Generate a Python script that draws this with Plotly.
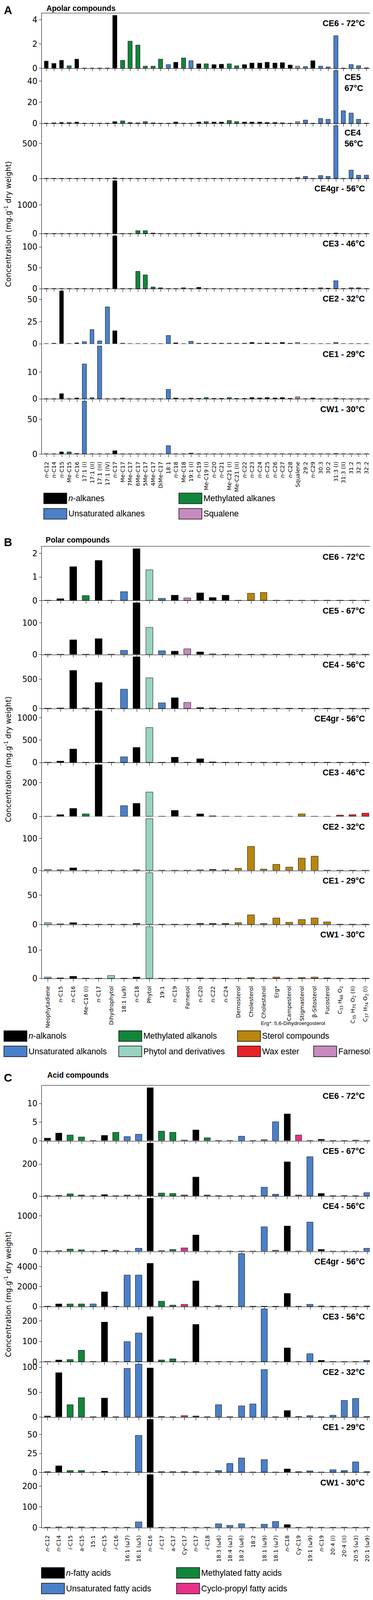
import plotly.graph_objects as go

# Layout positions below are given in reference pixels (955 x 4345).
# The page only shows ~4096 px of height and the body has an 8 px margin,
# so positions are mapped through fx/fy.
REF_W, REF_H = 955, 4345
VIEW_H = 4096
MARGIN = 8
S = VIEW_H / REF_H
W, H = REF_W - MARGIN, VIEW_H - MARGIN

# ---------------- Panel A : apolar compounds ----------------
A_CATS = ["<i>n</i>-C12", "<i>n</i>-C14", "<i>n</i>-C15", "Me-C15", "<i>n</i>-C16",
          "17:1 (I)", "17:1 (II)", "17:1 (III)", "17:1 (IV)", "<i>n</i>-C17",
          "Me-C17", "7Me-C17", "6Me-C17", "5Me-C17", "4Me-C17", "DiMe-C17",
          "18:1", "<i>n</i>-C18", "Me-C18", "19:1 (I)", "<i>n</i>-C19", "Me-C19 (I)",
          "<i>n</i>-C20", "<i>n</i>-C21", "Me-C21 (I)", "Me-C21 (II)", "<i>n</i>-C22",
          "<i>n</i>-C23", "<i>n</i>-C24", "<i>n</i>-C25", "<i>n</i>-C26", "<i>n</i>-C27",
          "<i>n</i>-C28", "Squalene", "29:2", "<i>n</i>-C29", "30:3", "30:2",
          "31:3 (I)", "31:3 (II)", "31:2", "32:3", "32:2"]
A_GROUP = ["n", "n", "n", "me", "n", "un", "un", "un", "un", "n", "me", "me", "me", "me",
           "me", "me", "un", "n", "me", "un", "n", "me", "n", "n", "me", "me", "n", "n",
           "n", "n", "n", "n", "n", "sq", "un", "n", "un", "un", "un", "un", "un", "un", "un"]
A_SAMPLES = ["CE6 - 72°C", "CE5<br>67°C", "CE4<br>56°C", "CE4gr - 56°C", "CE3 - 46°C",
             "CE2 - 32°C", "CE1 - 29°C", "CW1 - 30°C"]
A_CE6 = [0.58, 0.40, 0.66, 0.19, 0.73, 0.01, 0.01, 0.01, 0.01, 4.36, 0.65, 2.22, 1.92, 0.15,
         0.17, 0.76, 0.30, 0.48, 0.85, 0.62, 0.36, 0.37, 0.30, 0.32, 0.35, 0.20, 0.29, 0.42,
         0.42, 0.48, 0.43, 0.47, 0.27, 0.17, 0.12, 0.63, 0.18, 0.11, 2.69, 0.01, 0.28, 0.21, 0.02]
A_CE5 = [0, 0.3, 0.8, 0.7, 1.2, 0, 0, 0, 0, 1.5, 2.3, 0.6, 0.3, 1.5, 0.5, 0, 0, 1.2, 0, 0,
         1.0, 1.5, 1.1, 1.0, 2.8, 1.4, 1.0, 1.0, 1.3, 0.8, 0.7, 0.5, 0, 1.5, 3.1, 0, 4.5, 3.7,
         49.9, 12, 9.7, 3.6, 0]
A_CE4 = [0, 0, 1, 0, 3, 0, 0, 0, 0, 7, 0, 0, 0, 0, 0, 0, 0, 2, 0, 0, 1, 0, 0, 0, 0, 0, 0,
         0, 0, 0, 0, 0, 0, 12, 31, 0, 40, 26, 754, 0, 116, 47, 47]
A_CE4GR = [0, 1, 5, 0, 5, 0, 0, 2, 0, 1846, 1, 1, 103, 103, 10, 1, 1, 3, 4, 1, 10, 3, 1, 1,
           1, 1, 1, 1, 1, 1, 1, 1, 1, 1, 1, 1, 1, 1, 20, 0, 1, 1, 0]
A_CE3 = [0, 0, 0.5, 0, 0.3, 0, 0.3, 0, 0, 126.3, 0, 0, 41.5, 32.5, 3.5, 2, 0, 0, 2, 0.5, 3,
         0.5, 0, 0, 0.5, 0, 0, 0.3, 0, 0, 0, 0.5, 0, 0.8, 1.2, 0.5, 1.5, 1, 18.4, 0, 1.5, 1.5, 0]
A_CE2 = [0, 0.3, 59.5, 0, 1, 2.3, 16, 3, 41.4, 14.4, 0.5, 0, 0, 0, 0, 0, 9.5, 1, 0, 2.7,
         0.6, 0.6, 0.3, 0.3, 0.5, 0.3, 0.3, 1.2, 0.6, 0.8, 0.6, 1.5, 0.5, 1.3, 0, 0, 0, 0,
         1.3, 0, 0, 0, 0]
A_CE1 = [0, 0, 1.9, 0, 0.3, 12.95, 0.4, 19.6, 0, 0, 0.3, 0, 0, 0, 0, 0, 3.45, 0.3, 0, 0.25,
         0.2, 0.4, 0.2, 0.2, 0.4, 0.2, 0.2, 0.45, 0.35, 0.4, 0.35, 0.5, 0.2, 0.7, 0, 0.3, 0,
         0, 0.35, 0, 0, 0, 0]
A_CW1 = [0, 0, 2.6, 2.6, 0.5, 75.8, 0, 0, 0, 4.6, 0.3, 0, 0, 0, 0, 0, 12, 0.3, 0, 1.0, 0.3,
         0.3, 0.3, 0.3, 0.3, 0.3, 0.3, 0.3, 0.3, 0.3, 0.3, 0.3, 0.3, 0, 0, 0.3, 0, 0, 0.5,
         0, 0, 0, 0]
A_TICKS = [[0, 2, 4], [0, 20, 40], [0, 500], [0, 1000], [0, 50, 100], [0, 25, 50], [0, 10], [0, 50]]
A_LEGEND = [("<i>n</i>-alkanes", "n"), ("Methylated alkanes", "me"),
            ("Unsaturated alkanes", "un"), ("Squalene", "sq")]

# ---------------- Panel B : polar compounds ----------------
B_CATS = ["Neophytadiene", "<i>n</i>-C15", "<i>n</i>-C16", "Me-C16 (I)", "<i>n</i>-C17",
          "Dihydrophytol", "18:1 (ω9)", "<i>n</i>-C18", "Phytol", "19:1", "<i>n</i>-C19",
          "Farnesol", "<i>n</i>-C20", "<i>n</i>-C22", "<i>n</i>-C24", "Demosterol",
          "Cholesterol", "Cholestanol", "Erg*", "Campesterol", "Stigmasterol",
          "β-Sitosterol", "Fucosterol",
          "C<sub>33</sub> H<sub>66</sub> O<sub>2</sub>",
          "C<sub>35</sub> H<sub>70</sub> O<sub>2</sub> (II)",
          "C<sub>37</sub> H<sub>74</sub> O<sub>2</sub> (I)"]
B_GROUP = ["ph", "n", "n", "me", "n", "ph", "un", "n", "ph", "un", "n", "far", "n", "n", "n",
           "st", "st", "st", "st", "st", "st", "st", "st", "wax", "wax", "wax"]
B_SAMPLES = ["CE6 - 72°C", "CE5 - 67°C", "CE4 - 56°C", "CE4gr - 56°C", "CE3 - 46°C",
             "CE2 - 32°C", "CE1 - 29°C", "CW1 - 30°C"]
B_CE6 = [0, 0.07, 1.43, 0.2, 1.69, 0, 0.37, 2.19, 1.3, 0.09, 0.22, 0.11, 0.31, 0.12, 0.22,
         0, 0.3, 0.33, 0, 0, 0, 0, 0, 0, 0, 0]
B_CE5 = [0.5, 0.5, 46, 0, 50, 0, 13, 163, 85, 11, 10, 18, 8, 1.5, 0, 0, 0, 0, 0, 0, 0, 0,
         0, 0, 1, 0]
B_CE4 = [3, 5, 645, 5, 442, 0, 328, 880, 518, 92, 183, 100, 18, 8, 0, 0, 0, 0, 0, 0, 0, 0,
         0, 0, 3, 0]
B_CE4GR = [3, 31, 301, 0, 1154, 0, 121, 335, 780, 0, 118, 0, 79, 14, 0, 0, 0, 0, 0, 0, 0, 0,
           0, 3, 0, 3]
B_CE3 = [1, 9, 46, 15, 306, 0, 64, 76, 145, 0, 36, 0, 14, 2, 0, 0, 0, 0, 0, 0, 15, 0, 0, 8,
         10.5, 20]
B_CE2 = [3, 2, 7, 0.5, 0.5, 0, 0.5, 2, 161, 0, 0, 0, 2, 3, 1.5, 6, 75, 4, 19, 9.5, 38, 44,
         0, 0, 0, 0]
B_CE1 = [2.5, 0.5, 2.7, 0.3, 0.3, 0, 0, 1.2, 88, 0, 0, 0, 1.7, 1.7, 1.2, 3.1, 16, 1.5, 11,
         3.3, 8, 11, 4.2, 0, 0, 0]
B_CW1 = [0.4, 0.15, 0.65, 0.05, 0.05, 1.0, 0, 0.45, 18.2, 0, 0, 0, 0.1, 0, 0, 0, 0.25, 0,
         0.4, 0, 0.25, 0.4, 0.15, 0, 0, 0]
B_TICKS = [[0, 1, 2], [0, 100], [0, 500], [0, 500, 1000], [0, 200], [0, 100], [0, 50], [0, 10]]
B_LEGEND = [("<i>n</i>-alkanols", "n"), ("Methylated alkanols", "me"),
            ("Sterol compounds", "st"), ("Unsaturated alkanols", "un"),
            ("Phytol and derivatives", "ph"), ("Wax ester", "wax"), ("Farnesol", "far")]

# ---------------- Panel C : acid compounds ----------------
C_CATS = ["<i>n</i>-C12", "<i>n</i>-C14", "<i>i</i>-C15", "a-C15", "15:1", "<i>n</i>-C15",
          "<i>i</i>-C16", "16:1 (ω7)", "16:1 (ω5)", "<i>n</i>-C16", "<i>i</i>-C17", "a-C17",
          "Cy-C17", "<i>n</i>-C17", "<i>i</i>-C18", "18:3 (ω6)", "18:4 (ω3)", "18:2 (ω6)",
          "18:2", "18:1 (ω9)", "18:1 (ω7)", "<i>n</i>-C18", "Cy-C19", "19:1 (ω9)",
          "<i>n</i>-C19", "20:4 (I)", "20:4 (II)", "20:5 (ω3)", "20:1 (ω9)"]
C_GROUP = ["n", "n", "me", "me", "un", "n", "me", "un", "un", "n", "me", "me", "cy", "n",
           "me", "un", "un", "un", "un", "un", "un", "n", "cy", "un", "n", "un", "un", "un", "un"]
C_SAMPLES = ["CE6 - 72°C", "CE5 - 67°C", "CE4 - 56°C", "CE4gr - 56°C", "CE3 - 56°C",
             "CE2 - 32°C", "CE1 - 29°C", "CW1 - 30°C"]
C_CE6 = [0.72, 2.03, 1.47, 0.98, 0, 1.37, 2.25, 1.05, 1.76, 14.2, 2.52, 2.22, 0.2, 2.88,
         0.75, 0, 0, 1.18, 0, 0.3, 5.13, 7.16, 1.54, 0, 0.36, 0, 0, 0.2, 0]
C_CE5 = [1, 3, 13, 7, 0, 9, 0, 7, 5, 331, 18, 17, 5, 117.5, 5, 0, 0, 0, 0, 56, 11.5, 215, 5,
         246, 15, 0, 0, 0, 20]
C_CE4 = [1, 20, 65, 35, 0, 28, 28, 0, 80, 1493, 17, 48, 97, 455, 0, 0, 0, 0, 0, 686, 28, 714,
         0, 821, 48, 0, 0, 0, 80]
C_CE4GR = [25, 258, 258, 258, 258, 1448, 0, 3129, 3129, 4331, 540, 123, 221, 2540, 0, 98, 0,
           5288, 0, 0, 0, 1325, 37, 221, 74, 0, 0, 0, 74]
C_CE3 = [1, 8.4, 9.6, 56, 0.5, 195, 0.5, 98, 140, 221, 9, 15, 0.5, 183, 0.5, 0.5, 0.5, 0.5,
         0.5, 259, 0, 68.5, 1.8, 40, 6.6, 0, 0, 0, 7]
C_CE2 = [1.7, 89, 25, 38.5, 0, 37.7, 0, 97.5, 106, 98.5, 1.2, 0.5, 2.4, 2.2, 0, 24.5, 0, 22,
         26.5, 95, 0, 13.2, 1, 2.4, 0.5, 3.2, 33, 37, 1.5]
C_CE1 = [0.5, 8.4, 2.4, 2.4, 0.3, 1.3, 0.2, 0.2, 48.8, 70, 0.7, 0.7, 1.0, 1.0, 0.3, 2.4, 11.7,
         18.8, 0, 17, 0.3, 4.4, 0.8, 1.6, 0.3, 3.1, 2.4, 13.6, 0.5]
C_CW1 = [1, 2, 2, 2.5, 0.3, 0.5, 0, 0, 27, 254.5, 1, 1, 0.5, 1, 0, 18, 10.5, 17.6, 0, 16.4,
         29, 14.7, 0, 2, 0.5, 0, 0, 0, 0]
C_TICKS = [[0, 5, 10], [0, 200], [0, 1000], [0, 2000, 4000], [0, 100, 200], [0, 50, 100],
           [0, 25, 50], [0, 100, 200]]
C_LEGEND = [("<i>n</i>-fatty acids", "n"), ("Methylated fatty acids", "me"),
            ("Unsaturated fatty acids", "un"), ("Cyclo-propyl fatty acids", "cy")]

COLORS = {"n": "#000000", "me": "#11863b", "un": "#4a80c9", "sq": "#c78abf",
          "ph": "#98d3c1", "st": "#b8860b", "wax": "#e5242a", "far": "#c78abf",
          "cy": "#e8318a"}

SANS = "Liberation Sans, Arial, sans-serif"
TICKF = "DejaVu Sans, sans-serif"
HF = 0.97  # font factor for horizontal text
VF = S     # font factor for rotated text


def fx(px):
    return (px - MARGIN) / W


def fy(py):
    return min(1.0, 1 - (py * S - MARGIN) / H)


fig = go.Figure()
annotations = []
shapes = []


def add_panel(start, zero0, step, cats, groups, series, samples, ticks, xrange_):
    colors = [COLORS[g] for g in groups]
    for k, vals in enumerate(series):
        n = start + k
        xname = "x" if n == 1 else f"x{n}"
        yname = "y" if n == 1 else f"y{n}"
        zero = zero0 + k * step
        top = zero - step
        fig.add_trace(go.Bar(
            x=cats, y=vals, xaxis=xname, yaxis=yname, width=0.55,
            marker=dict(color=colors, line=dict(color="#1c1c1c", width=1)),
            showlegend=False, hoverinfo="x+y"))
        last = k == len(series) - 1
        fig.layout[f"xaxis{'' if n == 1 else n}"] = dict(
            domain=[fx(107), fx(952)], anchor=yname, type="category",
            range=xrange_, tickmode="array", tickvals=cats, ticktext=cats,
            showline=True, linecolor="black", linewidth=1.3,
            mirror=True if k == 0 else False,
            ticks="outside", ticklen=6.5, tickwidth=1.2, tickcolor="black",
            showticklabels=last, tickangle=-90, ticklabelstandoff=6,
            tickfont=dict(family=TICKF, size=15 * VF, color="black"),
            showgrid=False, zeroline=False)
        fig.layout[f"yaxis{'' if n == 1 else n}"] = dict(
            domain=[fy(zero), fy(top)], anchor=xname,
            range=[0, max(vals) * 1.045], tickmode="array", tickvals=ticks[k],
            showline=True, linecolor="black", linewidth=1.3, mirror=True,
            ticks="outside", ticklen=6, tickwidth=1.2, tickcolor="black",
            tickfont=dict(family=TICKF, size=21 * HF, color="black"),
            showgrid=False, zeroline=False)
        label = samples[k]
        if "<br>" in label:
            annotations.append(dict(
                text=f"<b>{label}</b>", xref="paper", yref="paper",
                x=fx(880), y=fy(top + 40), xanchor="left", yanchor="middle", align="left",
                showarrow=False, font=dict(family=SANS, size=22 * HF, color="black")))
        else:
            annotations.append(dict(
                text=f"<b>{label}</b>", xref="paper", yref="paper",
                x=fx(936), y=fy(top + 28), xanchor="right", yanchor="middle",
                showarrow=False, font=dict(family=SANS, size=22 * HF, color="black")))


def add_legend(items, cols, rows, row_sizes):
    i = 0
    for r, size in enumerate(row_sizes):
        for c in range(size):
            text, key = items[i]
            i += 1
            x0, yc = cols[c], rows[r]
            shapes.append(dict(type="rect", xref="paper", yref="paper",
                               x0=fx(x0), x1=fx(x0 + 59), y0=fy(yc + 14.5), y1=fy(yc - 14.5),
                               fillcolor=COLORS[key], line=dict(color="#111111", width=1.5)))
            annotations.append(dict(text=text, xref="paper", yref="paper",
                                    x=fx(x0 + 61), y=fy(yc), xanchor="left", yanchor="middle",
                                    showarrow=False,
                                    font=dict(family=SANS, size=22 * HF, color="black")))


def add_header(letter, title, ytitle_center, y_letter, y_title, x_title, anchor="middle"):
    annotations.append(dict(text=f"<b>{letter}</b>", xref="paper", yref="paper",
                            x=fx(8), y=fy(y_letter), xanchor="left", yanchor=anchor,
                            showarrow=False, font=dict(family=SANS, size=30 * HF, color="black")))
    annotations.append(dict(text=f"<b>{title}</b>", xref="paper", yref="paper",
                            x=fx(x_title), y=fy(y_title), xanchor="left", yanchor=anchor,
                            showarrow=False, font=dict(family=SANS, size=20 * HF, color="black")))
    annotations.append(dict(text="Concentration (mg.g<sup>-1</sup> dry weight)",
                            xref="paper", yref="paper", x=fx(20), y=fy(ytitle_center),
                            xanchor="center", yanchor="middle", textangle=-90,
                            showarrow=False, font=dict(family=TICKF, size=20 * VF, color="black")))


add_panel(1, 186, 150.1, A_CATS, A_GROUP,
          [A_CE6, A_CE5, A_CE4, A_CE4GR, A_CE3, A_CE2, A_CE1, A_CW1],
          A_SAMPLES, A_TICKS, [-0.62, 42.7])
add_panel(9, 1635.7, 147.05, B_CATS, B_GROUP,
          [B_CE6, B_CE5, B_CE4, B_CE4GR, B_CE3, B_CE2, B_CE1, B_CW1],
          B_SAMPLES, B_TICKS, [-0.48, 25.5])
add_panel(17, 3107.3, 150.5, C_CATS, C_GROUP,
          [C_CE6, C_CE5, C_CE4, C_CE4GR, C_CE3, C_CE2, C_CE1, C_CW1],
          C_SAMPLES, C_TICKS, [-0.5, 28.4])

add_header("A", "Apolar compounds", 610, 0, 0, 117, anchor="top")
add_header("B", "Polar compounds", 2068, 1477, 1470, 115)
add_header("C", "Acid compounds", 3525, 2935, 2928, 119)

add_legend(A_LEGEND, [112, 458], [1357.5, 1399.5], [2, 2])
add_legend(B_LEGEND, [10, 304, 608, 803], [2822, 2863.5], [3, 4])
add_legend(C_LEGEND, [106, 452], [4284, 4326.5], [2, 2])

annotations.append(dict(text="Erg*: 5,6-Dihydroergosterol", xref="paper", yref="paper",
                        x=fx(750), y=fy(2787), xanchor="center", yanchor="middle",
                        showarrow=False, font=dict(family=SANS, size=14 * HF, color="black")))

fig.update_layout(
    width=W, height=H, autosize=False,
    margin=dict(l=0, r=0, t=0, b=0),
    paper_bgcolor="white", plot_bgcolor="white",
    bargap=0, showlegend=False,
    annotations=annotations, shapes=shapes,
)

fig.write_html("out.html")
